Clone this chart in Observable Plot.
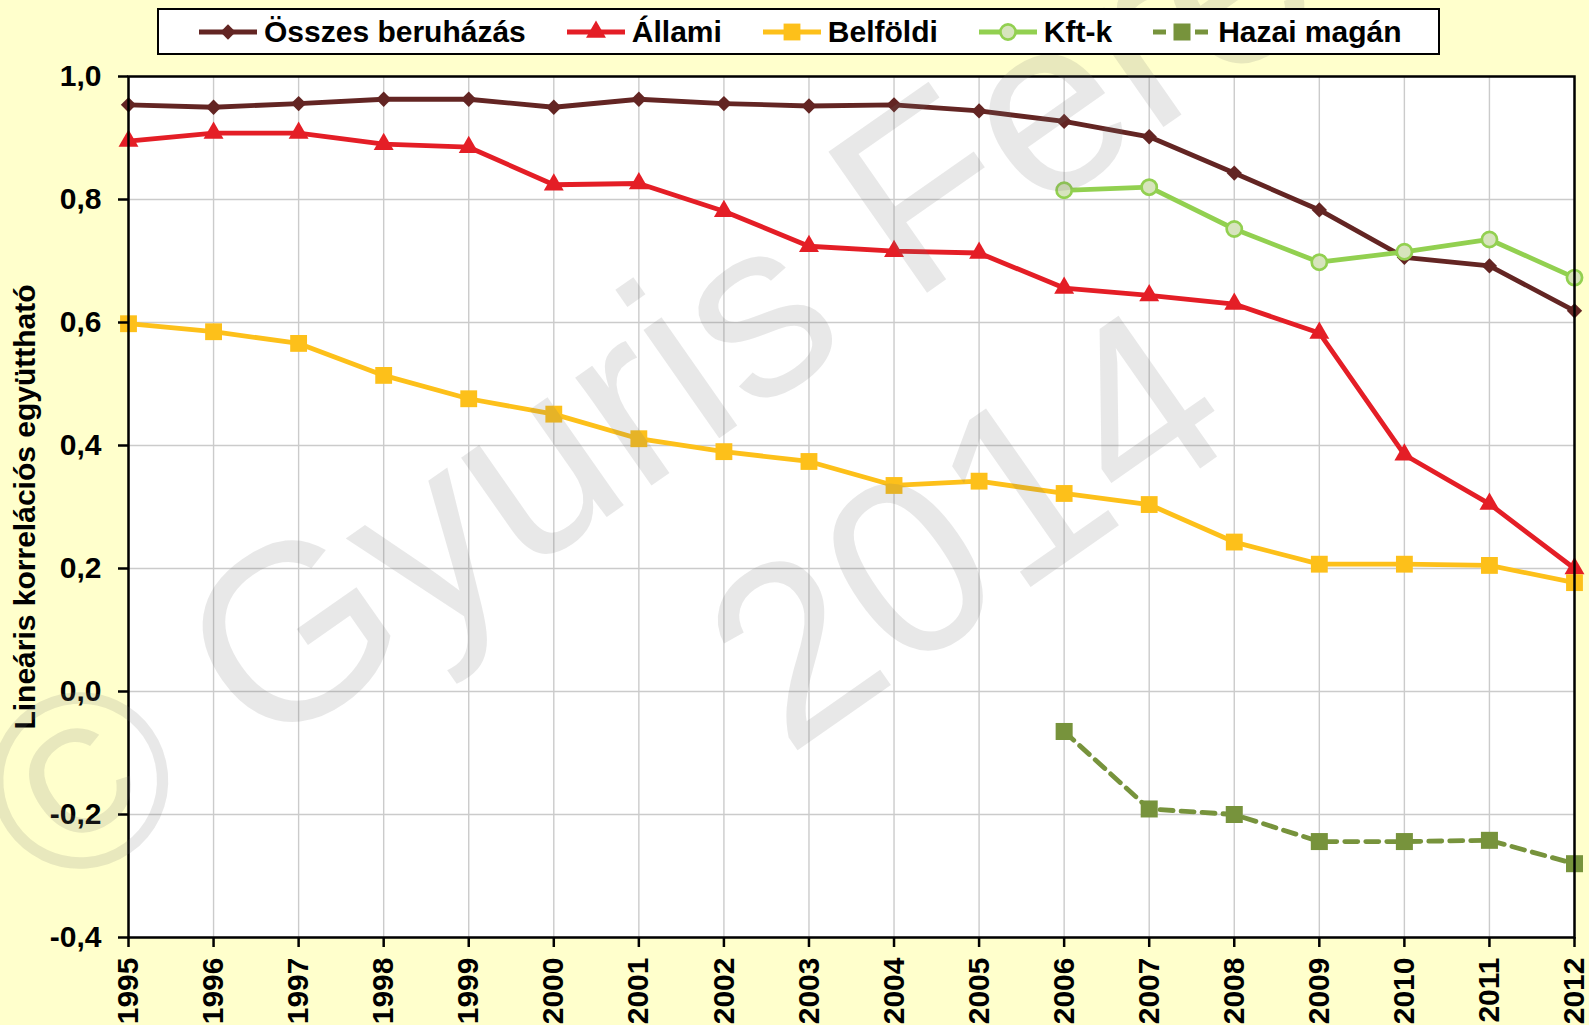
<!DOCTYPE html>
<html>
<head>
<meta charset="utf-8">
<script src="https://cdn.jsdelivr.net/npm/d3@7"></script>
<script src="https://cdn.jsdelivr.net/npm/@observablehq/plot@0.6"></script>
<style>
html, body { margin: 0; padding: 0; background: #FFFFCC; }
#wrap { position: relative; width: 1589px; height: 1025px; overflow: hidden; font-family: "Liberation Sans", Arial, sans-serif; }
#legend-row { position: relative; height: 46px; z-index: 3; }
#legend { position: absolute; left: 157px; top: 8px; width: 1283px; height: 47px; box-sizing: border-box;
  border: 2.5px solid #000; background: #fff; display: flex; align-items: center; padding-left: 40px; gap: 41px;
  font-weight: bold; font-size: 30px; color: #000; }
.item { display: flex; align-items: center; gap: 7px; white-space: nowrap; }
.item svg { display: block; overflow: visible; }
#wm { position: absolute; left: 0; top: 0; pointer-events: none; z-index: 2; }
#chart svg { display: block; overflow: visible; }
</style>
</head>
<body>
<div id="wrap">
  <div id="legend-row"><div id="legend"></div></div>
  <div id="chart"></div>
  <svg id="wm" width="1589" height="1025">
    <g font-family="Liberation Sans, Arial, sans-serif" font-size="250" fill="rgba(110,110,110,0.16)">
      <text transform="translate(54,904) rotate(-35)">© Gyuris Ferenc</text>
      <text transform="translate(1015,598) rotate(-35)" text-anchor="middle">2014</text>
    </g>
  </svg>
</div>
<script>
// ---- data ----
const years = [1995,1996,1997,1998,1999,2000,2001,2002,2003,2004,2005,2006,2007,2008,2009,2010,2011,2012];
const osszes   = [0.954,0.950,0.956,0.963,0.963,0.950,0.963,0.956,0.952,0.954,0.944,0.927,0.902,0.843,0.783,0.706,0.692,0.619];
const allami   = [0.895,0.908,0.908,0.890,0.885,0.824,0.826,0.781,0.724,0.716,0.713,0.656,0.644,0.630,0.583,0.385,0.305,0.200];
const belfoldi = [0.598,0.585,0.566,0.514,0.476,0.451,0.411,0.390,0.374,0.335,0.342,0.322,0.304,0.243,0.207,0.207,0.205,0.177];
const lateYears = [2006,2007,2008,2009,2010,2011,2012];
const kft   = [0.815,0.820,0.752,0.698,0.715,0.735,0.673];
const hazai = [-0.065,-0.191,-0.200,-0.244,-0.244,-0.242,-0.280];
const yTicks = [-0.4,-0.2,0,0.2,0.4,0.6,0.8,1.0];
const seriesNames = ["Összes beruházás","Állami","Belföldi","Kft-k","Hazai magán"];
const yTitle = "Lineáris korrelációs együttható";

// ---- styles ----
const styles = [
  {line: "#632523", symbol: "diamond2", fill: "#632523", stroke: "none", sw: 0, r: 6.9, dash: null},
  {line: "#E41E26", symbol: "triangle", fill: "#E41E26", stroke: "none", sw: 0, r: 7.4, dash: null},
  {line: "#FDC01A", symbol: "square",   fill: "#FDC01A", stroke: "none", sw: 0, r: 9.5, dash: null},
  {line: "#92D050", symbol: "circle",   fill: "#D7E4BD", stroke: "#92D050", sw: 2.7, r: 7.6, dash: null},
  {line: "#77933C", symbol: "square",   fill: "#77933C", stroke: "none", sw: 0, r: 9.6, dash: "13,8"}
];

const seriesData = [
  years.map((x, i) => ({x, y: osszes[i]})),
  years.map((x, i) => ({x, y: allami[i]})),
  years.map((x, i) => ({x, y: belfoldi[i]})),
  lateYears.map((x, i) => ({x, y: kft[i]})),
  lateYears.map((x, i) => ({x, y: hazai[i]}))
];

const fmt = d => d.toFixed(1).replace(".", ",").replace("-0,0", "0,0");

const seriesMarks = seriesData.flatMap((data, k) => {
  const s = styles[k];
  return [
    Plot.line(data, {x: "x", y: "y", stroke: s.line, strokeWidth: 4.8, strokeDasharray: s.dash, strokeLinejoin: "round"}),
    Plot.dot(data, {x: "x", y: "y", symbol: s.symbol, r: s.r, fill: s.fill, stroke: s.stroke, strokeWidth: s.sw})
  ];
});

const chart = Plot.plot({
  width: 1589,
  height: 979,
  marginLeft: 128,
  marginRight: 15,
  marginTop: 30,
  marginBottom: 88,
  style: {fontFamily: "Liberation Sans, Arial, sans-serif", fontSize: "30px", fontWeight: "bold", background: "transparent", color: "#000", overflow: "visible"},
  x: {type: "linear", domain: [1995, 2012]},
  y: {domain: [-0.4, 1.0]},
  marks: [
    Plot.frame({fill: "#fff", stroke: null}),
    Plot.gridX(years, {stroke: "#cbcbcb", strokeOpacity: 1, strokeWidth: 1.4}),
    Plot.gridY(yTicks, {stroke: "#cbcbcb", strokeOpacity: 1, strokeWidth: 1.4}),
    ...seriesMarks,
    Plot.frame({stroke: "#000", strokeWidth: 2.5}),
    Plot.axisX(years, {tickRotate: -90, tickSize: 10, tickPadding: 10, tickFormat: d => String(d), label: null,
      fontSize: 30, fontWeight: "bold", stroke: "#000", strokeWidth: 2.5, fill: "#000"}),
    Plot.axisY(yTicks, {tickSize: 10, tickPadding: 17, tickFormat: fmt, label: yTitle, labelAnchor: "center",
      labelArrow: "none", labelOffset: 115, fontSize: 30, fontWeight: "bold", stroke: "#000", strokeWidth: 2.5, fill: "#000"})
  ]
});
document.getElementById("chart").appendChild(chart);

// ---- legend ----
const symbolMap = {diamond2: d3.symbolDiamond2, triangle: d3.symbolTriangle, square: d3.symbolSquare, circle: d3.symbolCircle};
const legend = d3.select("#legend");
seriesNames.forEach((name, k) => {
  const s = styles[k];
  const item = legend.append("div").attr("class", "item");
  const sv = item.append("svg").attr("width", 58).attr("height", 22);
  sv.append("line").attr("x1", 0).attr("x2", 58).attr("y1", 11).attr("y2", 11)
    .attr("stroke", s.line).attr("stroke-width", 4.8).attr("stroke-dasharray", s.dash);
  sv.append("path").attr("transform", "translate(29,11)")
    .attr("d", d3.symbol(symbolMap[s.symbol], Math.PI * s.r * s.r)())
    .attr("fill", s.fill).attr("stroke", s.stroke).attr("stroke-width", s.sw);
  item.append("span").text(name);
});
</script>
</body>
</html>
